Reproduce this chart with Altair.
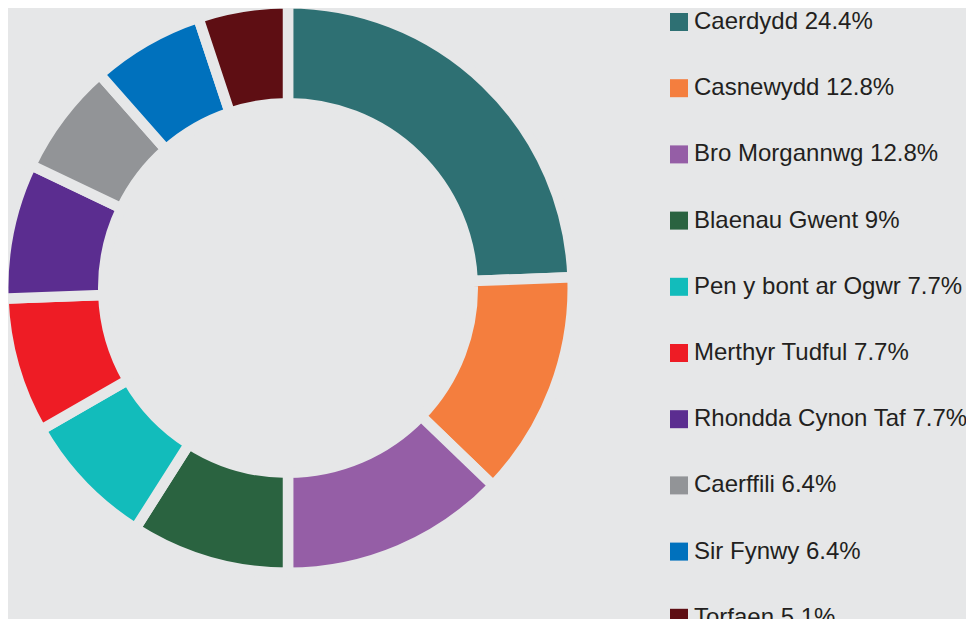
import altair as alt
import pandas as pd

names = ["Caerdydd", "Casnewydd", "Bro Morgannwg", "Blaenau Gwent",
         "Pen y bont ar Ogwr", "Merthyr Tudful", "Rhondda Cynon Taf",
         "Caerffili", "Sir Fynwy", "Torfaen"]
values = [24.4, 12.8, 12.8, 9, 7.7, 7.7, 7.7, 6.4, 6.4, 5.1]
colors = ["#2e7073", "#f47e3e", "#955ea6", "#2a6340", "#12bcbb",
          "#ee1c25", "#5b2d90", "#929497", "#0071bd", "#5e0e13"]

labels = [f"{n} {v:g}%" for n, v in zip(names, values)]
df = pd.DataFrame({"name": names, "value": values, "label": labels,
                   "order": list(range(len(names)))})

bg = "#e6e7e8"

chart = alt.Chart(df).mark_arc(
    outerRadius=284.75, innerRadius=184.75, stroke=bg, strokeWidth=10.5
).encode(
    x=alt.value(280),
    y=alt.value(280),
    theta=alt.Theta("value:Q", stack=True),
    order=alt.Order("order:Q"),
    color=alt.Color(
        "label:N",
        sort=labels,
        scale=alt.Scale(domain=labels, range=colors),
        legend=alt.Legend(
            title=None, orient="none", legendX=659, legendY=2,
            symbolType="square", symbolSize=324, symbolStrokeWidth=0,
            labelFontSize=24, labelFont="Liberation Sans", labelColor="#231f20",
            rowPadding=42.2, labelOffset=3, labelLimit=500, padding=0,
        ),
    ),
).properties(
    width=958, height=611, padding=0,
    autosize=alt.AutoSizeParams(type="none")
).configure(
    background=bg
).configure_view(
    stroke=None
)

chart.save("out.html", embed_options={"renderer": "svg", "actions": False})
